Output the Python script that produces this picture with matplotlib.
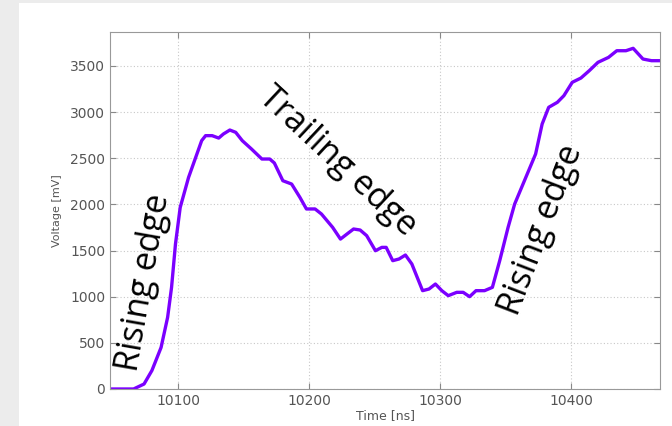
import matplotlib
matplotlib.use("Agg")
import matplotlib.pyplot as plt
from matplotlib.patches import Rectangle

time_ns = [10048, 10066, 10074, 10080, 10087, 10092, 10095, 10098, 10101.6, 10108,
           10118, 10121, 10126, 10131, 10134.6, 10139.5, 10144, 10149, 10156, 10164,
           10170, 10173.5, 10180, 10186.7, 10193, 10198, 10204.6, 10209.5, 10218, 10224,
           10229, 10234, 10239, 10244, 10250.7, 10255.6, 10258.9, 10263.9, 10268.7, 10273.6,
           10278.5, 10286.7, 10291.6, 10296.5, 10301.4, 10306.3, 10312.8, 10317.7, 10322.6, 10327.5,
           10334, 10340, 10345.6, 10352, 10357, 10365, 10373, 10378, 10383, 10389.6,
           10394.6, 10401, 10407.6, 10414, 10420.6, 10428.7, 10435, 10442, 10447.5, 10455,
           10461.5, 10468]
voltage_mv = [0, 0, 54, 200, 450, 776, 1100, 1570, 1966, 2292,
              2690, 2744, 2744, 2718, 2762, 2805, 2780, 2690, 2600, 2491,
              2491, 2448, 2256, 2220, 2076, 1950, 1950, 1895, 1751, 1624,
              1679, 1733, 1722, 1661, 1498, 1534, 1534, 1390, 1408, 1451,
              1354, 1065, 1083, 1137, 1065, 1011, 1047, 1047, 1000, 1065,
              1065, 1101, 1390, 1751, 2003, 2274, 2545, 2870, 3051, 3105,
              3177, 3322, 3368, 3448, 3538, 3592, 3664, 3664, 3690, 3574,
              3556, 3556]

x_ticks = [10100, 10200, 10300, 10400]
y_ticks = [0, 500, 1000, 1500, 2000, 2500, 3000, 3500]

annotations = ["Rising edge", "Trailing edge", "Rising edge"]
ann_x = [10074, 10222, 10377]
ann_y = [1150, 2460, 1720]
ann_rot = [80, -43, 69]

W, H = 672, 426
fig = plt.figure(figsize=(W / 100, H / 100), dpi=100)
fig.patch.set_facecolor("#ececec")
fig.patches.append(Rectangle((19 / W, 0), 1, 1 - 3 / H, transform=fig.transFigure,
                             facecolor="white", edgecolor="none", zorder=-5))

ax = fig.add_axes([110 / W, 1 - 389 / H, (660 - 110) / W, (389 - 31.7) / H])
ax.set_zorder(1)
ax.set_facecolor("white")
ax.plot(time_ns, voltage_mv, color="#7b00ff", lw=2.4, solid_joinstyle="round")
ax.set_xlim(10048, 10468)
ax.set_ylim(0, 3870)
ax.set_xticks(x_ticks)
ax.set_yticks(y_ticks)
ax.grid(True, color="#c8c8c8", linestyle=(0, (1, 2)), linewidth=0.8)
ax.tick_params(direction="in", top=True, right=True, labelsize=10, labelcolor="#555555",
               color="#888888", length=4)
for s in ax.spines.values():
    s.set_color("#999999")
ax.set_xlabel("Time [ns]", fontsize=9, color="#555555", labelpad=1)
ax.set_ylabel("Voltage [mV]", fontsize=8, color="#555555", labelpad=6)

for t, x, y, r in zip(annotations, ann_x, ann_y, ann_rot):
    ax.text(x, y, t, rotation=r, rotation_mode="anchor", ha="center", va="center",
            fontsize=24.5, family="Open Sans", color="black")

fig.savefig("out.png", dpi=100, facecolor=fig.get_facecolor())
